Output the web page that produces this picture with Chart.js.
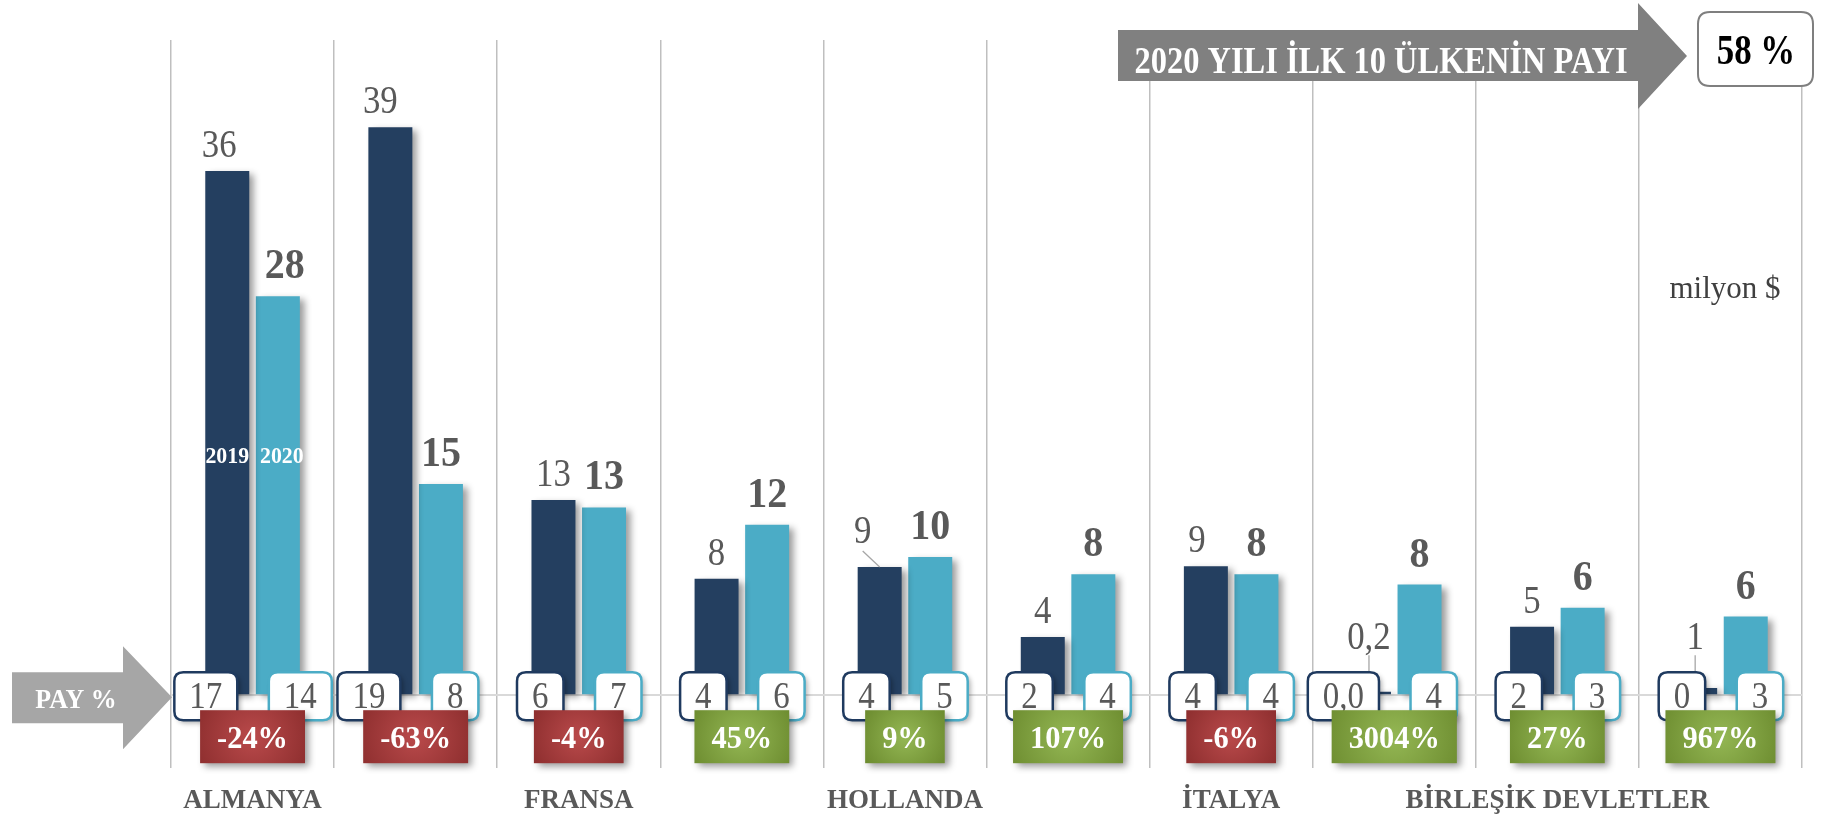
<!DOCTYPE html>
<html><head><meta charset="utf-8">
<script src="https://cdn.jsdelivr.net/npm/chart.js@4.4.1/dist/chart.umd.min.js"></script>
<style>html,body{margin:0;padding:0;background:#fff;overflow:hidden}#wrap{width:1845px;height:816px;position:relative}</style>
</head><body><div id="wrap"><canvas id="c" width="1845" height="816"></canvas></div>
<script>
// ---- data ----
const categories = ['ALMANYA', '', 'FRANSA', '', 'HOLLANDA', '', 'İTALYA', '', 'BİRLEŞİK DEVLETLER', ''];
const seriesNames = ['2019', '2020'];
const values2019 = [36, 39, 13.4, 8.0, 8.8, 4.0, 8.85, 0.24, 4.7, 0.5];
const values2020 = [27.4, 14.5, 12.9, 11.7, 9.5, 8.3, 8.3, 7.6, 6.0, 5.4];
const valueLabels2019 = ['36', '39', '13', '8', '9', '4', '9', '0,2', '5', '1'];
const valueLabels2020 = ['28', '15', '13', '12', '10', '8', '8', '8', '6', '6'];
const share2019 = ['17', '19', '6', '4', '4', '2', '4', '0,0', '2', '0'];
const share2020 = ['14', '8', '7', '6', '5', '4', '4', '4', '3', '3'];
const changePct = [-24, -63, -4, 45, 9, 107, -6, 3004, 27, 967];
const topArrowText = '2020 YILI İLK 10 ÜLKENİN PAYI';
const topShareText = '58 %';
const unitText = 'milyon $';
const payText = 'PAY %';

// ---- styles ----
const SERIF = '"Liberation Serif","Times New Roman",serif';
const NAVY = '#243F60', TEAL = '#4BACC6', GRAYTXT = '#595959';
const labelNudge = { 0: { 0: -8, 1: -10, 6: -9 }, 1: { 0: 7 } };

function drawText(ctx, s, x, y, font, color, align, sx) {
  ctx.save();
  ctx.font = font; ctx.fillStyle = color; ctx.textBaseline = 'alphabetic';
  ctx.textAlign = align || 'center';
  ctx.translate(x, y); ctx.scale(sx || 1, 1);
  ctx.fillText(s, 0, 0);
  ctx.restore();
}
function textWidth(ctx, s, font, sx) {
  ctx.save(); ctx.font = font; const w = ctx.measureText(s).width * (sx || 1); ctx.restore(); return w;
}
function roundRectPath(ctx, x, y, w, h, r) {
  ctx.beginPath();
  ctx.moveTo(x + r, y); ctx.lineTo(x + w - r, y); ctx.quadraticCurveTo(x + w, y, x + w, y + r);
  ctx.lineTo(x + w, y + h - r); ctx.quadraticCurveTo(x + w, y + h, x + w - r, y + h);
  ctx.lineTo(x + r, y + h); ctx.quadraticCurveTo(x, y + h, x, y + h - r);
  ctx.lineTo(x, y + r); ctx.quadraticCurveTo(x, y, x + r, y); ctx.closePath();
}
function line(ctx, x1, y1, x2, y2) {
  ctx.save(); ctx.strokeStyle = '#A6A6A6'; ctx.lineWidth = 1.3;
  ctx.beginPath(); ctx.moveTo(x1, y1); ctx.lineTo(x2, y2); ctx.stroke(); ctx.restore();
}

const decor = {
  id: 'decor',
  beforeDatasetsDraw(chart) {
    const ctx = chart.ctx; ctx.save();
    ctx.shadowColor = 'rgba(0,0,0,0.4)'; ctx.shadowBlur = 7; ctx.shadowOffsetX = 5; ctx.shadowOffsetY = 3;
  },
  afterDatasetsDraw(chart) {
    const ctx = chart.ctx; ctx.restore();
    const xs = chart.scales.x, ys = chart.scales.y;
    const zeroY = ys.getPixelForValue(0);
    const m0 = chart.getDatasetMeta(0).data, m1 = chart.getDatasetMeta(1).data;
    const shares = [share2019, share2020];
    const valLabels = [valueLabels2019, valueLabels2020];
    const vals = [values2019, values2020];

    // value labels
    for (let d = 0; d < 2; d++) {
      const meta = d === 0 ? m0 : m1;
      const font = d === 0 ? '40px ' + SERIF : 'bold 43px ' + SERIF;
      const sx = d === 0 ? 0.87 : 0.93;
      meta.forEach((bar, j) => {
        let x = bar.x, y = bar.y - (d === 0 ? 14 : 18);
        const dx = (labelNudge[d] && labelNudge[d][j]) || 0;
        x += dx;
        if (d === 0 && vals[d][j] < 1) {
          y = zeroY - 46;
          line(ctx, x, y + 6, x, zeroY - 23);
        } else if (d === 0 && j === 4) {
          x = bar.x - 17; y = bar.y - 24;
          line(ctx, x, y + 8, bar.x, bar.y);
        }
        drawText(ctx, valLabels[d][j], x, y, font, GRAYTXT, 'center', sx);
      });
    }
    // series name inside first bars
    drawText(ctx, seriesNames[0], m0[0].x, zeroY - 232, 'bold 23px ' + SERIF, '#ffffff', 'center', 0.95);
    drawText(ctx, seriesNames[1], m1[0].x + 4, zeroY - 232, 'bold 23px ' + SERIF, '#ffffff', 'center', 0.95);

    // share boxes
    const pf = '37px ' + SERIF, psx = 0.89;
    for (let d = 0; d < 2; d++) {
      const meta = d === 0 ? m0 : m1;
      meta.forEach((bar, j) => {
        const s = shares[d][j];
        const w = textWidth(ctx, s, pf, psx) + 30;
        const left = d === 0 ? bar.x + 10 - w : bar.x - 9;
        const top = zeroY - 23, h = 48;
        ctx.save();
        ctx.shadowColor = 'rgba(0,0,0,0.3)'; ctx.shadowBlur = 5; ctx.shadowOffsetX = 3; ctx.shadowOffsetY = 3;
        roundRectPath(ctx, left, top, w, h, 9);
        ctx.fillStyle = '#ffffff'; ctx.fill();
        ctx.shadowColor = 'transparent';
        ctx.lineWidth = 2.5; ctx.strokeStyle = d === 0 ? '#1F3A5F' : TEAL; ctx.stroke();
        ctx.restore();
        drawText(ctx, s, left + w / 2, zeroY + 13, pf, GRAYTXT, 'center', psx);
      });
    }
    // change boxes
    const cf = 'bold 32px ' + SERIF, csx = 0.95;
    changePct.forEach((v, j) => {
      const s = v + '%';
      const cx = xs.getPixelForValue(j);
      const w = textWidth(ctx, s, cf, csx) + 34, h = 53, top = zeroY + 15, left = cx - w / 2;
      const g = ctx.createRadialGradient(cx, top + h / 2, 2, cx, top + h / 2, w * 0.62);
      if (v < 0) { g.addColorStop(0, '#B8494A'); g.addColorStop(1, '#8A2C2C'); }
      else { g.addColorStop(0, '#93B653'); g.addColorStop(1, '#6A892D'); }
      ctx.save();
      ctx.shadowColor = 'rgba(0,0,0,0.4)'; ctx.shadowBlur = 7; ctx.shadowOffsetX = 4; ctx.shadowOffsetY = 4;
      ctx.fillStyle = g; ctx.fillRect(left, top, w, h);
      ctx.restore();
      drawText(ctx, s, cx, zeroY + 53, cf, '#ffffff', 'center', csx);
    });
  },
  afterDraw(chart) {
    const ctx = chart.ctx;
    const ca = chart.chartArea;
    const zeroY = chart.scales.y.getPixelForValue(0);
    // PAY % arrow
    ctx.save();
    ctx.fillStyle = '#A6A6A6';
    ctx.beginPath();
    ctx.moveTo(12, zeroY - 23); ctx.lineTo(123, zeroY - 23); ctx.lineTo(123, zeroY - 49);
    ctx.lineTo(ca.left + 1, zeroY + 2); ctx.lineTo(123, zeroY + 54); ctx.lineTo(123, zeroY + 28);
    ctx.lineTo(12, zeroY + 28); ctx.closePath(); ctx.fill();
    ctx.restore();
    drawText(ctx, payText, 76, zeroY + 13, 'bold 27px ' + SERIF, '#ffffff', 'center', 0.96);

    // top arrow
    ctx.save();
    ctx.fillStyle = '#808080';
    ctx.beginPath();
    ctx.moveTo(1118, 30); ctx.lineTo(1638, 30); ctx.lineTo(1638, 3); ctx.lineTo(1687, 56);
    ctx.lineTo(1638, 109); ctx.lineTo(1638, 81); ctx.lineTo(1118, 81); ctx.closePath(); ctx.fill();
    ctx.restore();
    const tf = 'bold 38px ' + SERIF;
    const tsx = 493 / textWidth(ctx, topArrowText, tf, 1);
    drawText(ctx, topArrowText, 1381, 73, tf, '#ffffff', 'center', tsx);

    // 58 % box
    ctx.save();
    roundRectPath(ctx, 1698, 12, 115, 74, 12);
    ctx.fillStyle = '#ffffff'; ctx.fill();
    ctx.lineWidth = 2; ctx.strokeStyle = '#7F7F7F'; ctx.stroke();
    ctx.restore();
    drawText(ctx, topShareText, 1756, 64, 'bold 42px ' + SERIF, '#000000', 'center', 0.83);

    // unit
    drawText(ctx, unitText, 1725, 298, '31px ' + SERIF, '#404040', 'center', 1);
  }
};

new Chart(document.getElementById('c'), {
  type: 'bar',
  data: {
    labels: categories,
    datasets: [
      { label: seriesNames[0], data: values2019, backgroundColor: NAVY, categoryPercentage: 0.62, barPercentage: 0.87 },
      { label: seriesNames[1], data: values2020, backgroundColor: TEAL, categoryPercentage: 0.62, barPercentage: 0.87 }
    ]
  },
  options: {
    responsive: false, animation: false, devicePixelRatio: 1,
    layout: { padding: { left: 171, right: 43, top: 40, bottom: 0 } },
    plugins: { legend: { display: false }, tooltip: { enabled: false } },
    scales: {
      x: {
        grid: { color: '#BFBFBF', lineWidth: 1.5, drawTicks: false },
        border: { display: false },
        ticks: { autoSkip: false, maxRotation: 0, minRotation: 0, padding: 17, color: GRAYTXT,
                 font: { family: SERIF, size: 27, weight: 'bold' } },
        afterFit(s) { s.height = 48; }
      },
      y: {
        min: -5, max: 45,
        ticks: { display: false, stepSize: 5 },
        border: { display: false },
        grid: { drawTicks: false, lineWidth: 2,
                color: (c) => (c.tick && c.tick.value === 0) ? '#D9D9D9' : 'rgba(0,0,0,0)' },
        afterFit(s) { s.width = 0; }
      }
    }
  },
  plugins: [decor]
});
</script>
</body></html>
